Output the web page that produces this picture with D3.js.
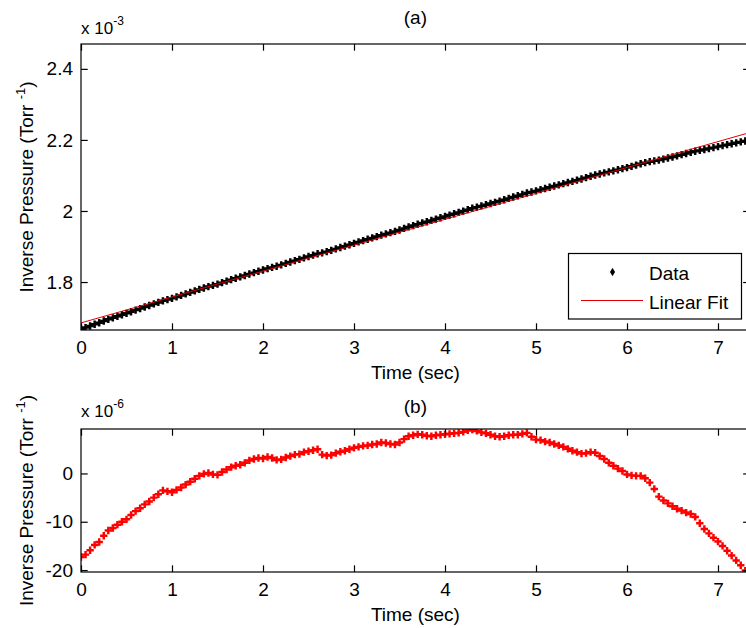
<!DOCTYPE html>
<html><head><meta charset="utf-8">
<script src="https://cdn.jsdelivr.net/npm/d3@7"></script>
<style>
body{margin:0;background:#fff}
svg{display:block}
text{font-family:"Liberation Sans",Arial,Helvetica,sans-serif;fill:#000}
</style>
</head><body><script>
// ---- data ----
const sampleInterval = 0.05; // seconds between samples
// residual (data - linear fit), units of 1e-6 Torr^-1
const residual = [
-17.3,-16.8,-15.9,-14.8,-14.2,-12.9,-11.8,-11.3,-10.6,-10.0,
-9.5,-8.6,-7.8,-7.2,-6.4,-5.8,-5.0,-4.3,-3.5,-3.7,
-3.9,-3.4,-2.9,-2.3,-1.7,-1.1,-0.5,-0.1,0.1,-0.2,
-0.3,0.3,0.8,1.3,1.6,1.8,2.2,2.7,3.0,3.2,
3.1,3.4,3.2,2.8,2.9,3.3,3.6,3.9,4.0,4.4,
4.6,4.8,5.0,3.9,3.7,3.8,4.2,4.5,4.7,5.0,
5.3,5.5,5.7,5.8,6.0,6.1,6.4,6.3,6.1,6.0,
6.4,7.1,7.7,7.9,8.1,8.0,7.8,7.7,7.9,8.0,
8.1,8.2,8.3,8.4,8.6,8.9,9.1,8.8,8.5,8.3,
8.0,7.7,7.6,7.7,7.9,8.0,8.0,8.2,8.4,7.6,
7.0,6.9,6.6,6.4,6.1,5.8,5.5,5.1,4.7,4.4,
4.1,4.2,4.4,4.3,3.6,3.0,2.2,1.6,1.0,0.5,
-0.2,-0.4,-0.5,-0.5,-1.0,-1.9,-3.2,-4.8,-5.6,-6.2,
-6.8,-7.3,-7.7,-8.1,-8.4,-9.0,-10.3,-11.5,-12.4,-13.3,
-14.1,-15.0,-16.0,-17.0,-18.0,-19.0,-20.1
];
// linear fit: intercept, slope (units of 1e-3 Torr^-1, per second)
const fitCoeffs = [1.685, 0.0729];
const xTicks = [0,1,2,3,4,5,6,7];
const yTicksA = [1.8,2.0,2.2,2.4];
const yTicksB = [-20,-10,0];
const xDomain = [0,7.35];
const yDomainA = [1.665,2.47];
const yDomainB = [-20.4,9.2];
const legendLabels = ["Data","Linear Fit"];

const time = residual.map((_,i)=>+(i*sampleInterval).toFixed(2));
const dataA = residual.map((r,i)=>fitCoeffs[0]+fitCoeffs[1]*time[i]+r*1e-3);

// ---- layout ----
const W=746,H=628;
const L=81, R=749.85;
const A={top:44,bottom:330}, B={top:429,bottom:572};
const TL=6.7, FS=19;

const svg=d3.select("body").append("svg").attr("width",W).attr("height",H);
svg.append("rect").attr("width",W).attr("height",H).attr("fill","#fff");

const x=d3.scaleLinear().domain(xDomain).range([L,R]);
const yA=d3.scaleLinear().domain(yDomainA).range([A.bottom,A.top]);
const yB=d3.scaleLinear().domain(yDomainB).range([B.bottom,B.top]);

const defs=svg.append("defs");
function clip(id,box){
  defs.append("clipPath").attr("id",id).append("rect")
    .attr("x",L).attr("y",box.top).attr("width",R-L).attr("height",box.bottom-box.top);
}
clip("cA",A); clip("cB",B);

function axes(box,y,yTicks,fmt){
  const g=svg.append("g");
  g.append("g").attr("transform",`translate(0,${box.bottom})`)
    .call(d3.axisBottom(x).tickValues(xTicks).tickSizeInner(-TL).tickSizeOuter(0).tickPadding(10.5).tickFormat(d=>String(d)));
  g.append("g").attr("transform",`translate(0,${box.top})`)
    .call(d3.axisTop(x).tickValues(xTicks).tickSizeInner(-TL).tickSizeOuter(0).tickFormat(""));
  g.append("g").attr("transform",`translate(${L},0)`)
    .call(d3.axisLeft(y).tickValues(yTicks).tickSizeInner(-TL).tickSizeOuter(0).tickPadding(8).tickFormat(fmt));
  g.append("g").attr("transform",`translate(${R},0)`)
    .call(d3.axisRight(y).tickValues(yTicks).tickSizeInner(-TL).tickSizeOuter(0).tickFormat(""));
  g.selectAll(".domain").remove();
  g.selectAll(".tick line").attr("stroke","#000").attr("stroke-width",1.2);
  g.selectAll(".tick text").attr("font-size",FS).attr("font-family",null).attr("fill","#000");
  g.append("rect").attr("x",L).attr("y",box.top).attr("width",R-L).attr("height",box.bottom-box.top)
    .attr("fill","none").attr("stroke","#000").attr("stroke-width",1.2);
  return g;
}

const marker=d3.symbol().type(d3.symbolCross);

// ---- plot (a) ----
const gA=svg.append("g").attr("clip-path","url(#cA)");
gA.selectAll("path.d").data(dataA).join("path").attr("class","d")
  .attr("d",marker.size(30)())
  .attr("transform",(d,i)=>`translate(${x(time[i])},${yA(d)})`)
  .attr("fill","#000");
gA.append("line")
  .attr("x1",x(xDomain[0])).attr("y1",yA(fitCoeffs[0]+fitCoeffs[1]*xDomain[0]))
  .attr("x2",x(xDomain[1])).attr("y2",yA(fitCoeffs[0]+fitCoeffs[1]*xDomain[1]))
  .attr("stroke","#e00000").attr("stroke-width",1);
axes(A,yA,yTicksA,d=>String(+d.toFixed(1)));

// ---- plot (b) ----
const gB=svg.append("g").attr("clip-path","url(#cB)");
gB.selectAll("path.r").data(residual).join("path").attr("class","r")
  .attr("d",marker.size(30)())
  .attr("transform",(d,i)=>`translate(${x(time[i])},${yB(d)})`)
  .attr("fill","#ff0000");
axes(B,yB,yTicksB,d=>String(d));

// ---- texts ----
const cx=(L+R)/2;
svg.append("text").attr("x",cx).attr("y",24).attr("text-anchor","middle").attr("font-size",FS).text("(a)");
svg.append("text").attr("x",cx).attr("y",412.5).attr("text-anchor","middle").attr("font-size",FS).text("(b)");
svg.append("text").attr("x",cx).attr("y",378.5).attr("text-anchor","middle").attr("font-size",FS).text("Time (sec)");
svg.append("text").attr("x",cx).attr("y",621).attr("text-anchor","middle").attr("font-size",FS).text("Time (sec)");

function ylabel(box){
  const t=svg.append("text").attr("text-anchor","middle").attr("font-size",FS)
    .attr("transform",`translate(33,${(box.top+box.bottom)/2}) rotate(-90)`);
  t.append("tspan").text("Inverse Pressure (Torr ");
  t.append("tspan").attr("font-size",13).attr("dy",-8).text("-1");
  t.append("tspan").attr("dy",8).text(")");
}
ylabel(A); ylabel(B);

function expo(yb,ex){
  const t=svg.append("text").attr("x",81).attr("y",yb).attr("font-size",17);
  t.append("tspan").text("x 10");
  t.append("tspan").attr("font-size",12).attr("dy",-9).text(ex);
}
expo(34,"-3"); expo(417,"-6");

// ---- legend ----
const lg=svg.append("g");
lg.append("rect").attr("x",568.5).attr("y",253.5).attr("width",173).attr("height",65.5)
  .attr("fill","#fff").attr("stroke","#000").attr("stroke-width",1.2);
lg.append("path").attr("d",d3.symbol().type(d3.symbolDiamond).size(22)()).attr("transform","translate(612.5,272)").attr("fill","#000");
lg.append("line").attr("x1",581).attr("x2",643).attr("y1",300.5).attr("y2",300.5).attr("stroke","#e00000").attr("stroke-width",1);
lg.append("text").attr("x",649).attr("y",279.5).attr("font-size",FS).text(legendLabels[0]);
lg.append("text").attr("x",649).attr("y",308.5).attr("font-size",FS).text(legendLabels[1]);
</script></body></html>
